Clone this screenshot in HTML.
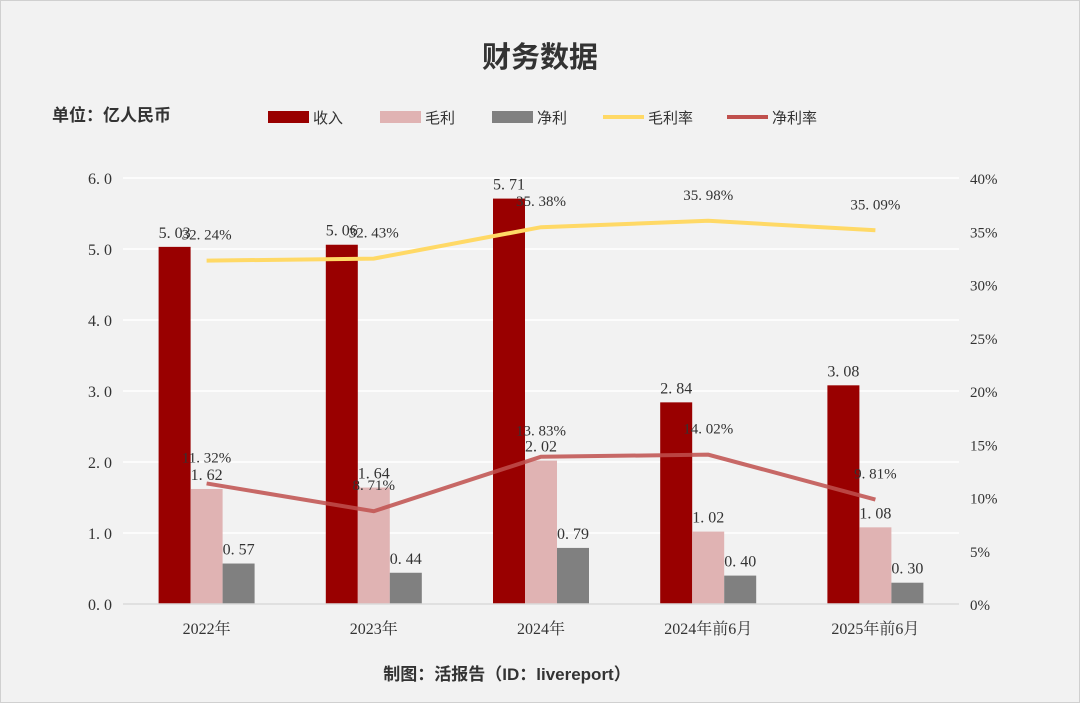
<!DOCTYPE html>
<html><head><meta charset="utf-8"><style>
html,body{margin:0;padding:0;background:#f2f2f2;}
svg{display:block;}
text{font-family:"Liberation Serif","Noto Serif CJK SC",serif;fill:#333;}
.cjk{font-family:"Liberation Sans","Noto Sans CJK SC",sans-serif;}
</style></head><body>
<svg id="c" width="1080" height="703" xmlns="http://www.w3.org/2000/svg">
<rect x="0.5" y="0.5" width="1079" height="702" fill="#f2f2f2" stroke="#d0d0d0"/>
<text x="540" y="67" text-anchor="middle" class="cjk" font-size="29" font-weight="bold" fill="#111">财务数据</text>
<text x="52" y="121" class="cjk" font-size="17" font-weight="bold" fill="#111">单位：亿人民币</text>
<g id="legend"></g>
<g id="grid"></g><g id="bars"></g><g id="lines"></g><g id="labels"></g><g id="axes"></g>
<text x="507" y="680" text-anchor="middle" class="cjk" font-size="17" font-weight="bold" fill="#111">制图：活报告（ID：livereport）</text>
</svg>
<script>
const categories=["2022年","2023年","2024年","2024年前6月","2025年前6月"];
const revenue=[5.03,5.06,5.71,2.84,3.08];
const grossProfit=[1.62,1.64,2.02,1.02,1.08];
const netProfit=[0.57,0.44,0.79,0.40,0.30];
const grossMargin=[32.24,32.43,35.38,35.98,35.09];
const netMargin=[11.32,8.71,13.83,14.02,9.81];
const leftTicks=[0,1,2,3,4,5,6];
const rightTicks=[0,5,10,15,20,25,30,35,40];
const NS="http://www.w3.org/2000/svg";
const X0=123,X1=959,Y0=604,Y1=178;
const yL=v=>Y0-(v/6)*(Y0-Y1);
const yR=v=>Y0-(v/40)*(Y0-Y1);
const band=(X1-X0)/categories.length;
const xC=i=>X0+band*(i+0.5);
function mk(tag,attrs,parent,txt){const e=document.createElementNS(NS,tag);for(const k in attrs)e.setAttribute(k,attrs[k]);if(txt!==undefined)e.textContent=txt;document.getElementById(parent).appendChild(e);return e;}
// grid & ticks
leftTicks.forEach(t=>{
 if(t>0){const g=mk('line',{x1:X0,x2:X1,y1:yL(t),y2:yL(t),stroke:'#ffffff','stroke-width':1.5},'grid');
 
 }
 const l=mk('text',{x:112,y:yL(t)+6,'text-anchor':'end','font-size':16},'axes',t.toFixed(1).replace('.','. '));
 
 
});
rightTicks.forEach(t=>{
 const l=mk('text',{x:970,y:yR(t)+6,'font-size':15},'axes',t+'%');
 
 
});
const ax=mk('line',{x1:X0,x2:X1,y1:Y0,y2:Y0,stroke:'#d9d9d9','stroke-width':1.5},'axes');


categories.forEach((c,i)=>{
 const l=mk('text',{x:xC(i),y:634,'text-anchor':'middle','font-size':16},'axes',c);
 
 
});
// bars
const series=[[revenue,'#990000','revenue'],[grossProfit,'#e0b3b3','gross-profit'],[netProfit,'#808080','net-profit']];
const bw=32;
series.forEach(([vals,col,name],s)=>{
 vals.forEach((v,i)=>{
  const x=xC(i)-48+s*bw;
  const r=mk('rect',{x:x,y:yL(v),width:bw,height:Y0-yL(v),fill:col},'bars');
  
  
  const t=mk('text',{x:x+bw/2,y:yL(v)-9,'text-anchor':'middle','font-size':16},'labels',v.toFixed(2).replace('.','. '));
  
  
 });
});
// lines
[[grossMargin,'#ffd966','gross-margin'],[netMargin,'#c0504d','net-margin']].forEach(([vals,col,name])=>{
 const pts=vals.map((v,i)=>xC(i)+','+yR(v)).join(' ');
 const p=mk('polyline',{points:pts,fill:'none',stroke:col,'stroke-width':4,'stroke-opacity':name==='net-margin'?0.85:1},'lines');
 
 
 vals.forEach((v,i)=>{
  const t=mk('text',{x:xC(i),y:yR(v)-21,'text-anchor':'middle','font-size':15},'labels',v.toFixed(2).replace('.','. ')+'%');
  
  
 });
});
// legend
const leg=[['收入','#990000','rect',268],['毛利','#e0b3b3','rect',380],['净利','#808080','rect',492],['毛利率','#ffd966','line',603],['净利率','#c0504d','line',727]];
leg.forEach(([n,c,type,x])=>{
 if(type==='rect'){const r=mk('rect',{x:x,y:111,width:41,height:12,fill:c},'legend');
  
  }
 else{const r=mk('line',{x1:x,x2:x+41,y1:117,y2:117,stroke:c,'stroke-width':4},'legend');
  
  }
 const t=mk('text',{x:x+45,y:123,'font-size':15,class:'cjk'},'legend',n);
 
 
});
</script>
</body></html>
